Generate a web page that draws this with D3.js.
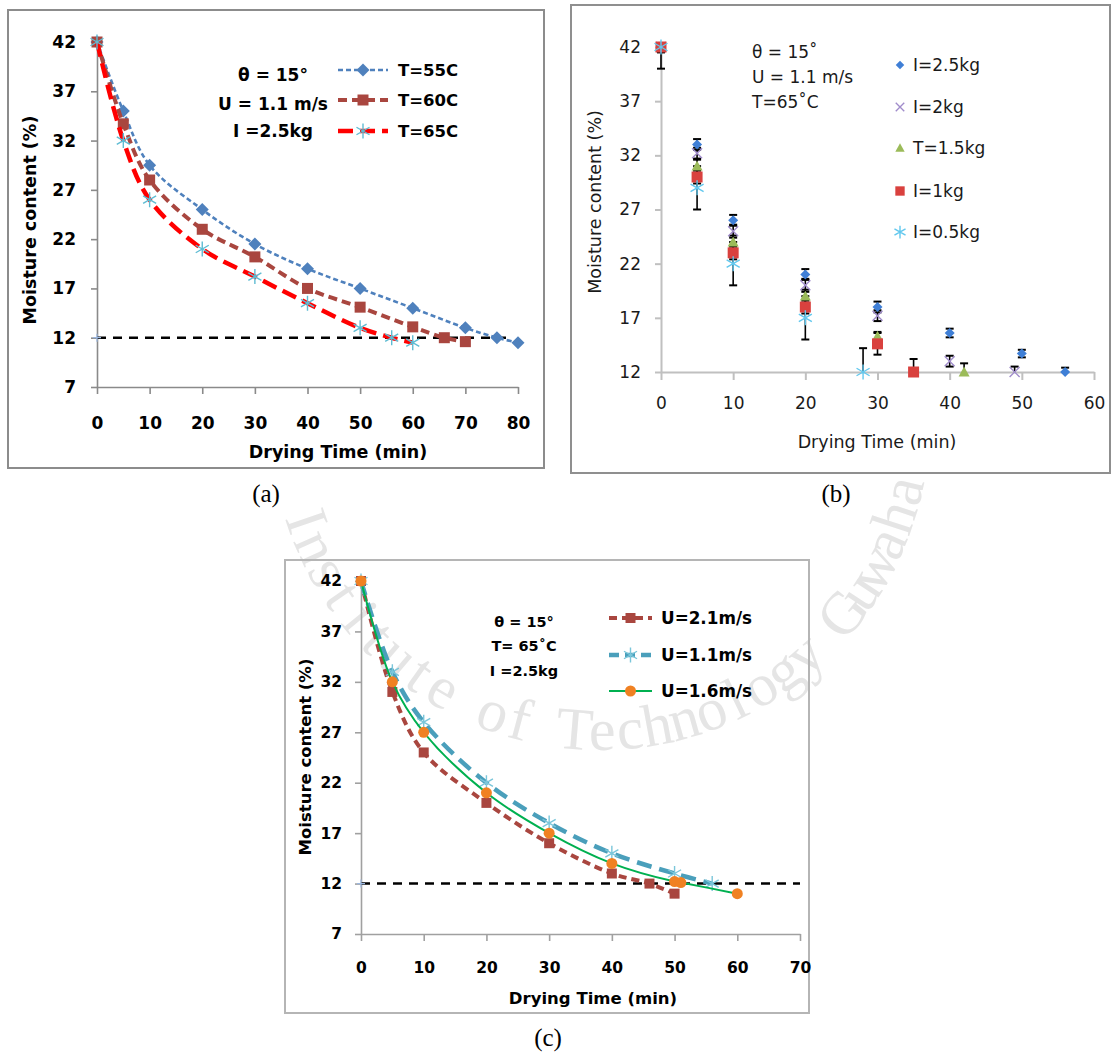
<!DOCTYPE html>
<html>
<head>
<meta charset="utf-8">
<script src="https://cdn.jsdelivr.net/npm/d3@7"></script>
<style>
  body { margin: 0; background: #fff; }
  svg { display: block; }
</style>
</head>
<body>
<svg id="fig" width="1112" height="1053"></svg>
<script>
// ---------- (a) effect of air temperature ----------
const timeA55  = [0, 5, 10, 20, 30, 40, 50, 60, 70, 76, 80];
const moistA55 = [42, 35, 29.5, 25, 21.5, 19, 17, 15, 13, 12, 11.5];
const timeA60  = [0, 5, 10, 20, 30, 40, 50, 60, 66, 70];
const moistA60 = [42, 33.7, 28, 23, 20.2, 17, 15.1, 13.1, 12, 11.6];
const timeA65  = [0, 5, 10, 20, 30, 40, 50, 56, 60];
const moistA65 = [42, 32, 26, 21, 18.2, 15.5, 13, 12, 11.5];
const legendA  = ["T=55C", "T=60C", "T=65C"];
const noteA    = ["θ = 15°", "U = 1.1 m/s", "I =2.5kg"];
const limitTimeA = [0, 78];

// ---------- (b) effect of load ----------
const timeB25  = [0, 5, 10, 20, 30, 40, 50, 56];
const moistB25 = [42, 33, 26, 21, 18, 15.6, 13.7, 12];
const errB25   = [0.3, 0.5, 0.5, 0.5, 0.5, 0.4, 0.35, 0.4];
const timeB20  = [0, 5, 10, 20, 30, 40, 49];
const moistB20 = [42, 32.2, 25, 20, 17.2, 13, 12];
const errB20   = [0.3, 0.5, 0.6, 0.6, 0.5, 0.5, 0.5];
const timeB15  = [0, 5, 10, 20, 30, 42];
const moistB15 = [42, 31, 24, 19, 15.3, 12];
const errB15   = [0.4, 0.6, 0.6, 0.6, 0.4, 0.8];
const timeB10  = [0, 5, 10, 20, 30, 35];
const moistB10 = [42, 30, 23, 18, 14.6, 12];
const errB10   = [0.5, 0.6, 0.6, 0.6, 1, 1.2];
const timeB05  = [0, 5, 10, 20, 28];
const moistB05 = [42, 29, 22, 17, 12];
const errB05   = [2, 2, 2, 2, 2.2];
const legendB  = ["I=2.5kg", "I=2kg", "T=1.5kg", "I=1kg", "I=0.5kg"];
const noteB    = ["θ = 15˚", "U = 1.1 m/s", "T=65˚C"];

// ---------- (c) effect of air velocity ----------
const timeC21  = [0, 5, 10, 20, 30, 40, 46, 50];
const moistC21 = [42, 31, 25, 20, 16, 13, 12, 11];
const timeC11  = [0, 5, 10, 20, 30, 40, 50, 56];
const moistC11 = [42, 33, 28, 22, 18, 15, 13, 12];
const timeC16  = [0, 5, 10, 20, 30, 40, 50, 51, 60];
const moistC16 = [42, 32, 27, 21, 17, 14, 12.2, 12.1, 11];
const legendC  = ["U=2.1m/s", "U=1.1m/s", "U=1.6m/s"];
const noteC    = ["θ = 15°", "T= 65˚C", "I =2.5kg"];
const limitTimeC = [0, 70];

const limitMoist = 12;
const yTicksAC = [7, 12, 17, 22, 27, 32, 37, 42];
const yTicksB  = [12, 17, 22, 27, 32, 37, 42];
const xTicksA  = [0, 10, 20, 30, 40, 50, 60, 70, 80];
const xTicksB  = [0, 10, 20, 30, 40, 50, 60];
const xTicksC  = [0, 10, 20, 30, 40, 50, 60, 70];

const svg = d3.select("#fig");
const zip = (xs, ys) => xs.map((t, i) => [t, ys[i]]);
const smooth = d3.curveCatmullRom.alpha(0.5);

// faint emblem lettering set along a circle, one glyph at a time
(function watermark() {
  const word = "Institute of Technology Guwahati";
  const cx = 600, cy = 420, R = 330, startDeg = 161, stepDeg = 5.1;
  const g = svg.append("g").attr("fill", "#e5e5e5")
    .attr("font-family", "Liberation Serif").attr("font-size", 60);
  [...word].forEach((ch, i) => {
    if (ch === " ") return;
    const deg = startDeg - stepDeg * i, rad = deg * Math.PI / 180;
    const px = cx + R * Math.cos(rad), py = cy + R * Math.sin(rad);
    g.append("text").attr("text-anchor", "middle")
      .attr("transform", `translate(${px},${py}) rotate(${deg - 90})`)
      .text(ch);
  });
})();

// marker shapes
function markerPath(type, s) {
  switch (type) {
    case "diamond": return `M0,${-s}L${s},0L0,${s}L${-s},0Z`;
    case "square": return `M${-s},${-s}H${s}V${s}H${-s}Z`;
    case "triangle": return `M0,${-s}L${s},${s * 0.8}H${-s}Z`;
    case "circle": return d3.symbol(d3.symbolCircle, Math.PI * s * s)();
    case "asterisk": {
      const a = s * 0.87, b = s * 0.5;
      return `M0,${-s}L0,${s}M${-a},${-b}L${a},${b}M${-a},${b}L${a},${-b}`;
    }
    case "cross": return `M${-s},${-s}L${s},${s}M${-s},${s}L${s},${-s}`;
  }
}
const strokedOnly = t => t === "asterisk" || t === "cross";

function drawMarker(g, type, x, y, color, s) {
  g.append("path")
    .attr("transform", `translate(${x},${y})`)
    .attr("d", markerPath(type, s))
    .attr("fill", strokedOnly(type) ? "none" : color)
    .attr("stroke", strokedOnly(type) ? color : "none")
    .attr("stroke-width", 1.4);
}

function frame(x0, y0, w, h, stroke, fill) {
  svg.append("rect").attr("x", x0).attr("y", y0).attr("width", w).attr("height", h)
    .attr("fill", fill).attr("stroke", stroke).attr("stroke-width", 2);
}

function axes(g, x, y, o) {
  const ax = g.append("g").attr("transform", `translate(0,${y.range()[0]})`)
    .call(d3.axisBottom(x).tickValues(o.xTicks).tickSize(o.xTickSize).tickPadding(o.xPad).tickSizeOuter(0));
  const ay = g.append("g").attr("transform", `translate(${x.range()[0]},0)`)
    .call(d3.axisLeft(y).tickValues(o.yTicks).tickSize(6).tickPadding(o.yPad).tickSizeOuter(0));
  [ax, ay].forEach(a => {
    a.select(".domain").attr("stroke", o.axisColor).attr("stroke-width", o.axisWidth);
    a.selectAll(".tick line").attr("stroke", o.axisColor).attr("stroke-width", o.axisWidth);
    a.selectAll("text").attr("font-family", "DejaVu Sans").attr("font-size", o.fontSize)
      .attr("font-weight", o.bold ? "bold" : "normal").attr("fill", o.textColor);
  });
  g.append("text").attr("x", o.xTitle[0]).attr("y", o.xTitle[1]).attr("text-anchor", "middle")
    .attr("font-family", "DejaVu Sans").attr("font-size", o.titleSize)
    .attr("font-weight", o.bold ? "bold" : "normal").attr("fill", o.textColor)
    .text("Drying Time (min)");
  g.append("text").attr("transform", `translate(${o.yTitle[0]},${o.yTitle[1]}) rotate(-90)`)
    .attr("text-anchor", "middle")
    .attr("font-family", "DejaVu Sans").attr("font-size", o.titleSize)
    .attr("font-weight", o.bold ? "bold" : "normal").attr("fill", o.textColor)
    .text("Moisture content (%)");
}

function caption(label, cx, by) {
  svg.append("text").attr("x", cx).attr("y", by).attr("text-anchor", "middle")
    .attr("font-family", "Liberation Serif").attr("font-size", 25).attr("fill", "#000")
    .text(label);
}

function limitLine(g, x, y, times) {
  g.append("line")
    .attr("x1", x(times[0])).attr("x2", x(times[1]))
    .attr("y1", y(limitMoist)).attr("y2", y(limitMoist))
    .attr("stroke", "#000").attr("stroke-width", 2.4).attr("stroke-dasharray", "9,7");
  g.append("path").attr("transform", `translate(${x(times[0])},${y(limitMoist)})`)
    .attr("d", "M-4,0H4M0,-4V4").attr("stroke", "#9bb7e0").attr("stroke-width", 1.2);
}

function series(g, x, y, pts, s) {
  g.append("path").datum(pts)
    .attr("d", d3.line().x(d => x(d[0])).y(d => y(d[1])).curve(s.curve || smooth))
    .attr("fill", "none").attr("stroke", s.line).attr("stroke-width", s.width)
    .attr("stroke-dasharray", s.dash || null);
  pts.forEach(p => drawMarker(g, s.marker, x(p[0]), y(p[1]), s.color, s.size));
}

function legendRow(g, x0, x1, yy, s, label, fontSize, textX) {
  g.append("line").attr("x1", x0).attr("x2", x1).attr("y1", yy).attr("y2", yy)
    .attr("stroke", s.line).attr("stroke-width", s.width)
    .attr("stroke-dasharray", s.legendDash || s.dash || null);
  drawMarker(g, s.marker, (x0 + x1) / 2, yy, s.color, s.size);
  g.append("text").attr("x", textX).attr("y", yy + 6)
    .attr("font-family", "DejaVu Sans").attr("font-size", fontSize).attr("font-weight", "bold")
    .attr("fill", "#000").text(label);
}

// ======================= panel (a) =======================
frame(8, 10, 536, 458, "#8c8c8c", "#fff");
{
  const g = svg.append("g");
  const x = d3.scaleLinear().domain([0, 80]).range([97, 518]);
  const y = d3.scaleLinear().domain([7, 42]).range([387, 42]);
  axes(g, x, y, {
    xTicks: xTicksA, yTicks: yTicksAC, xTickSize: 7, xPad: 23, yPad: 15,
    axisColor: "#8a8a8a", axisWidth: 1.6, fontSize: 17, titleSize: 17.5, bold: true,
    textColor: "#000", xTitle: [338, 458], yTitle: [36, 220]
  });
  const sA = [
    { line: "#4F81BD", width: 2.6, dash: "5,3", marker: "diamond", color: "#4F81BD", size: 6.5 },
    { line: "#A9463F", width: 4, dash: "9,5", marker: "square", color: "#A9463F", size: 5.5 },
    { line: "#FF0000", width: 4.5, dash: "15,7", marker: "asterisk", color: "#5FBCD3", size: 7.5 }
  ];
  limitLine(g, x, y, limitTimeA);
  series(g, x, y, zip(timeA55, moistA55), sA[0]);
  series(g, x, y, zip(timeA60, moistA60), sA[1]);
  series(g, x, y, zip(timeA65, moistA65), sA[2]);
  const rows = [70, 100, 131];
  sA.forEach((s, i) => legendRow(g, 338, 388, rows[i], s, legendA[i], 16.5, 398));
  const noteY = [81, 110, 137];
  noteA.forEach((t, i) => g.append("text").attr("x", 273).attr("y", noteY[i])
    .attr("text-anchor", "middle").attr("font-family", "DejaVu Sans").attr("font-size", 17)
    .attr("font-weight", "bold").attr("fill", "#000").text(t));
}
caption("(a)", 266, 502);

// ======================= panel (b) =======================
frame(571, 5, 539, 468, "#8f8f8f", "#fff");
{
  const g = svg.append("g");
  const x = d3.scaleLinear().domain([0, 60]).range([661, 1094]);
  const y = d3.scaleLinear().domain([12, 42]).range([372, 47]);
  axes(g, x, y, {
    xTicks: xTicksB, yTicks: yTicksB, xTickSize: 8, xPad: 17, yPad: 14,
    axisColor: "#c0c0c0", axisWidth: 2, fontSize: 17, titleSize: 17.5, bold: false,
    textColor: "#1a1a1a", xTitle: [877, 448], yTitle: [601, 202]
  });
  g.append("clipPath").attr("id", "clipB").append("rect")
    .attr("x", 640).attr("y", y(42)).attr("width", 470).attr("height", y(12) - y(42));
  const plot = g.append("g").attr("clip-path", "url(#clipB)");
  const sB = [
    { t: timeB25, m: moistB25, e: errB25, marker: "diamond", color: "#3F7FD6", size: 5 },
    { t: timeB20, m: moistB20, e: errB20, marker: "cross", color: "#A08CCB", size: 5 },
    { t: timeB15, m: moistB15, e: errB15, marker: "triangle", color: "#9BBB59", size: 5.5 },
    { t: timeB10, m: moistB10, e: errB10, marker: "square", color: "#D9413E", size: 5.5 },
    { t: timeB05, m: moistB05, e: errB05, marker: "asterisk", color: "#62C8EE", size: 7.5 }
  ];
  sB.forEach(s => {
    s.t.forEach((t, i) => {
      const cx = x(t), lo = y(s.m[i] - s.e[i]), hi = y(s.m[i] + s.e[i]);
      plot.append("line").attr("x1", cx).attr("x2", cx).attr("y1", lo).attr("y2", hi)
        .attr("stroke", "#000").attr("stroke-width", 1.6);
      [lo, hi].forEach(v => plot.append("line").attr("x1", cx - 4).attr("x2", cx + 4)
        .attr("y1", v).attr("y2", v).attr("stroke", "#000").attr("stroke-width", 2));
    });
    s.t.forEach((t, i) => drawMarker(g, s.marker, x(t), y(s.m[i]), s.color, s.size));
  });
  const rows = [65, 107, 148, 191, 232];
  sB.forEach((s, i) => {
    drawMarker(g, s.marker, 900, rows[i], s.color, s.size * 0.85);
    g.append("text").attr("x", 913).attr("y", rows[i] + 6)
      .attr("font-family", "DejaVu Sans").attr("font-size", 17).attr("fill", "#1a1a1a")
      .text(legendB[i]);
  });
  const noteY = [58, 83, 108];
  noteB.forEach((t, i) => g.append("text").attr("x", 752).attr("y", noteY[i])
    .attr("font-family", "DejaVu Sans").attr("font-size", 17).attr("fill", "#1a1a1a").text(t));
}
caption("(b)", 836, 502);

// ======================= panel (c) =======================
frame(285, 560, 524, 453, "#b5b5b5", "none");
{
  const g = svg.append("g");
  const x = d3.scaleLinear().domain([0, 70]).range([361, 800]);
  const y = d3.scaleLinear().domain([7, 42]).range([934, 581]);
  axes(g, x, y, {
    xTicks: xTicksC, yTicks: yTicksAC, xTickSize: 7, xPad: 21, yPad: 13,
    axisColor: "#a0a0a0", axisWidth: 1.6, fontSize: 15.5, titleSize: 16.5, bold: true,
    textColor: "#000", xTitle: [593, 1004], yTitle: [311, 757]
  });
  const sC = [
    { line: "#A9463F", width: 4, dash: "8,5", marker: "square", color: "#A9463F", size: 5 },
    { line: "#4A9FBB", width: 4.5, dash: "15,8", legendDash: "10,6", marker: "asterisk", color: "#7AC6DA", size: 7.5 },
    { line: "#00B050", width: 2, marker: "circle", color: "#F08122", size: 5.5 }
  ];
  limitLine(g, x, y, limitTimeC);
  series(g, x, y, zip(timeC21, moistC21), sC[0]);
  series(g, x, y, zip(timeC11, moistC11), sC[1]);
  series(g, x, y, zip(timeC16, moistC16), sC[2]);
  const rows = [618, 655, 691];
  sC.forEach((s, i) => legendRow(g, 609, 652, rows[i], s, legendC[i], 16.8, 661));
  const noteY = [627, 651, 676];
  noteC.forEach((t, i) => g.append("text").attr("x", 524).attr("y", noteY[i])
    .attr("text-anchor", "middle").attr("font-family", "DejaVu Sans").attr("font-size", 14.5)
    .attr("font-weight", "bold").attr("fill", "#000").text(t));
}
caption("(c)", 548, 1046);
</script>
</body>
</html>
